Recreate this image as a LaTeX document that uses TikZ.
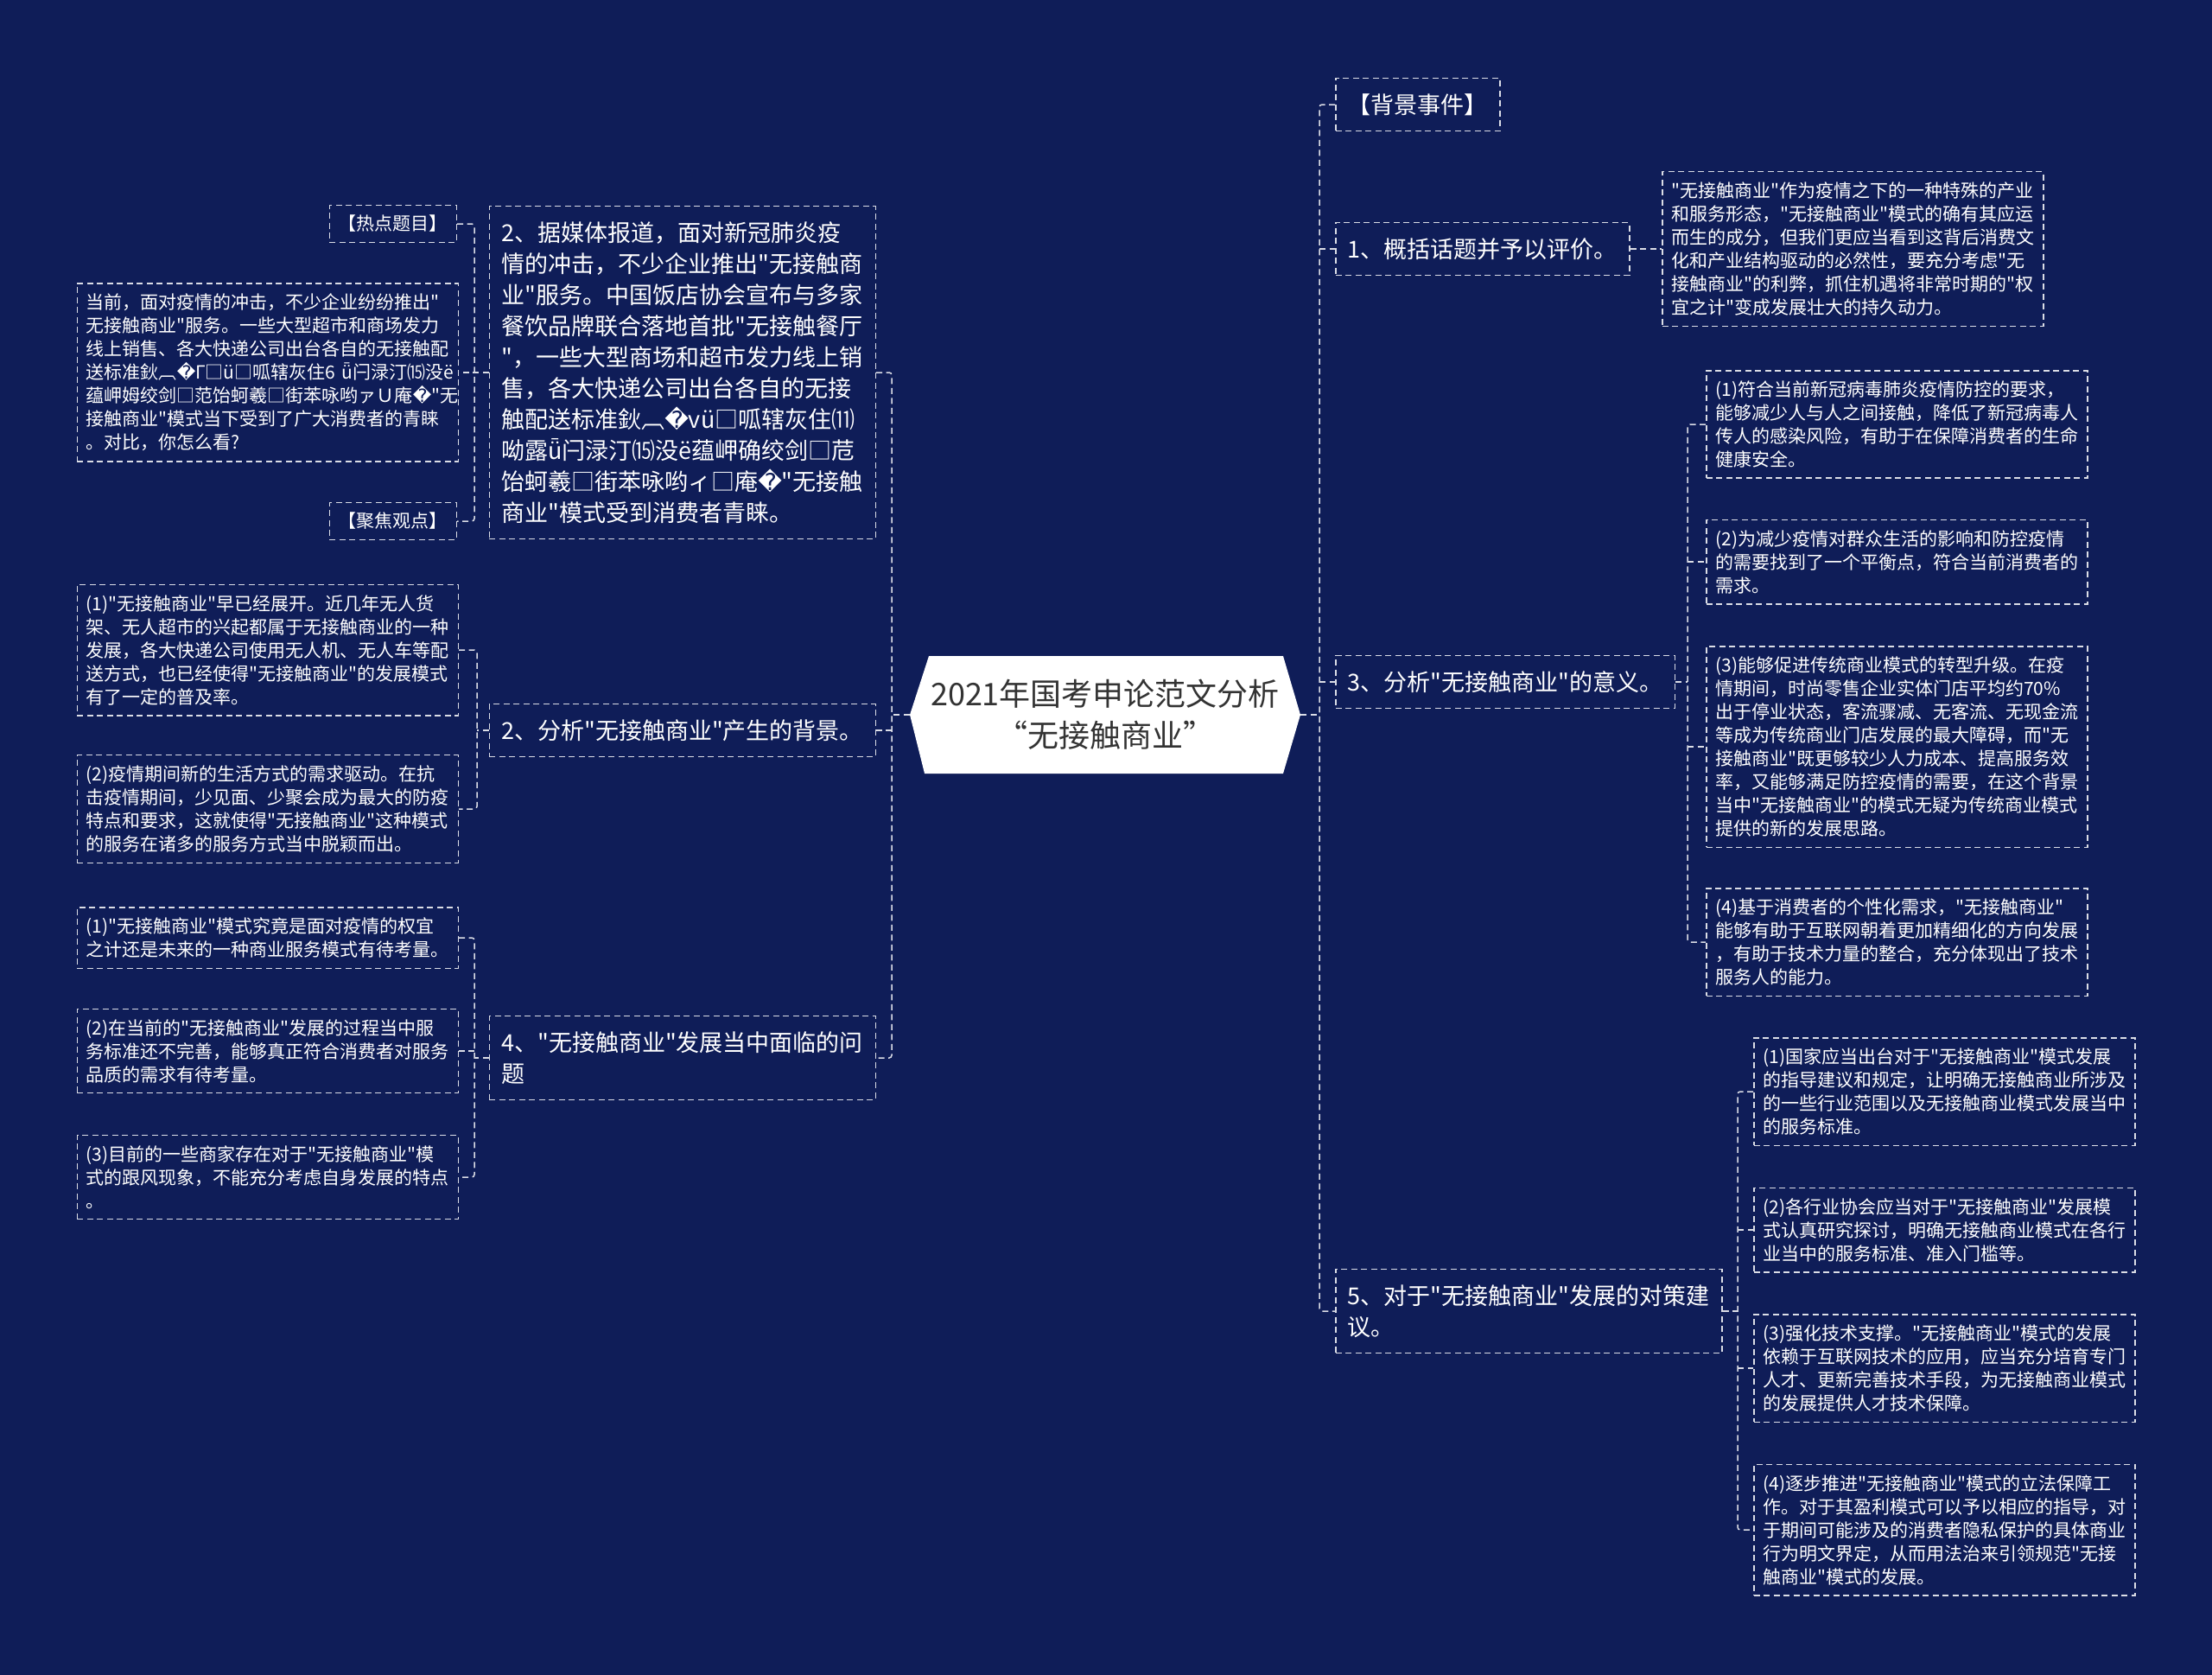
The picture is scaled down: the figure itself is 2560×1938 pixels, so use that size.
\documentclass[tikz,border=0pt]{standalone}
\usepackage{fontspec}
\setmainfont{Noto Sans CJK SC}[Ligatures=TeXOff]
\newfontfamily\dvsans{DejaVu Sans}
\newcommand{\bad}{{\dvsans\char"FFFD}}
\usetikzlibrary{positioning}
\definecolor{bgblue}{HTML}{0F1D58}
\definecolor{titlegray}{HTML}{333333}

\begin{document}
\begin{tikzpicture}[x=1pt, y=-1pt,
  every node/.style={text=white, align=left},
  topic/.style={draw=white!85!bgblue, line width=1.5pt, dash pattern=on 7pt off 4.5pt,
    inner xsep=14pt, inner ysep=18pt, font=\fontsize{27}{36}\selectfont},
  leaf/.style={draw=white!85!bgblue, line width=1.5pt, dash pattern=on 7pt off 4.5pt,
    inner xsep=10.5pt, inner ysep=12pt, text width=420pt, font=\fontsize{21}{27}\selectfont},
  tag/.style={leaf, text width=, inner ysep=11.5pt},
  root/.style={text=titlegray, align=center, minimum width=452pt, inner sep=0pt,
    font=\fontsize{36}{48}\selectfont},
  link/.style={draw=white!85!bgblue, line width=1.5pt, dash pattern=on 7pt off 4.5pt,
    rounded corners=3pt}]
  \fill[bgblue] (0,0) rectangle (2560,1938);

  % centre
  \fill[white] (1053,827) -- (1075,759) -- (1485,759) -- (1505,827) -- (1485,895) -- (1070,895) -- cycle;
  \node[root] (root) at (1279,827) {2021年国考申论范文分析\\“无接触商业”};

  % right branches
  \node[topic, anchor=west] (bg) at (1545,121) {【背景事件】};
  \node[topic, anchor=west] (r1) at (1545,288) {1、概括话题并予以评价。};
  \node[topic, anchor=west] (r3) at (1545,789) {3、分析"无接触商业"的意义。};
  \node[topic, anchor=west, text width=419pt] (r5) at (1545,1517) {5、对于"无接触商业"发展的对策建\\议。};

  \node[leaf, anchor=west] (c1) at (1923,288) {"无接触商业"作为疫情之下的一种特殊的产业\\和服务形态，"无接触商业"模式的确有其应运\\而生的成分，但我们更应当看到这背后消费文\\化和产业结构驱动的必然性，要充分考虑"无\\接触商业"的利弊，抓住机遇将非常时期的"权\\宜之计"变成发展壮大的持久动力。};

  \node[leaf, anchor=west] (m1) at (1974,491) {(1)符合当前新冠病毒肺炎疫情防控的要求，\\能够减少人与人之间接触，降低了新冠病毒人\\传人的感染风险，有助于在保障消费者的生命\\健康安全。};
  \node[leaf, anchor=west] (m2) at (1974,650) {(2)为减少疫情对群众生活的影响和防控疫情\\的需要找到了一个平衡点，符合当前消费者的\\需求。};
  \node[leaf, anchor=west] (m3) at (1974,864) {(3)能够促进传统商业模式的转型升级。在疫\\情期间，时尚零售企业实体门店平均约70\%\\出于停业状态，客流骤减、无客流、无现金流\\等成为传统商业门店发展的最大障碍，而"无\\接触商业"既更够较少人力成本、提高服务效\\率，又能够满足防控疫情的需要，在这个背景\\当中"无接触商业"的模式无疑为传统商业模式\\提供的新的发展思路。};
  \node[leaf, anchor=west] (m4) at (1974,1090) {(4)基于消费者的个性化需求，"无接触商业"\\能够有助于互联网朝着更加精细化的方向发展\\，有助于技术力量的整合，充分体现出了技术\\服务人的能力。};

  \node[leaf, anchor=west] (s1) at (2029,1263) {(1)国家应当出台对于"无接触商业"模式发展\\的指导建议和规定，让明确无接触商业所涉及\\的一些行业范围以及无接触商业模式发展当中\\的服务标准。};
  \node[leaf, anchor=west] (s2) at (2029,1423) {(2)各行业协会应当对于"无接触商业"发展模\\式认真研究探讨，明确无接触商业模式在各行\\业当中的服务标准、准入门槛等。};
  \node[leaf, anchor=west] (s3) at (2029,1583) {(3)强化技术支撑。"无接触商业"模式的发展\\依赖于互联网技术的应用，应当充分培育专门\\人才、更新完善技术手段，为无接触商业模式\\的发展提供人才技术保障。};
  \node[leaf, anchor=west] (s4) at (2029,1770) {(4)逐步推进"无接触商业"模式的立法保障工\\作。对于其盈利模式可以予以相应的指导，对\\于期间可能涉及的消费者隐私保护的具体商业\\行为明文界定，从而用法治来引领规范"无接\\触商业"模式的发展。};

  % left branches
  \node[topic, anchor=east, text width=419pt] (l2a) at (1014,431) {2、据媒体报道，面对新冠肺炎疫\\情的冲击，不少企业推出"无接触商\\业"服务。中国饭店协会宣布与多家\\餐饮品牌联合落地首批"无接触餐厅\\"，一些大型商场和超市发力线上销\\售，各大快递公司出台各自的无接\\触配送标准鈥︹\bad vü□呱辖灰住⑾\\呦露ǖ闩渌汀⒂没ё蕴岬确绞剑□苊\\饴蚵羲□街苯咏哟ィ□庵\bad"无接触\\商业"模式受到消费者青睐。};
  \node[topic, anchor=east, text width=419pt] (l2b) at (1014,845) {2、分析"无接触商业"产生的背景。};
  \node[topic, anchor=east, text width=419pt] (l4) at (1014,1224) {4、"无接触商业"发展当中面临的问\\题};

  \node[tag, anchor=east] (hot) at (529,259) {【热点题目】};
  \node[leaf, anchor=east] (hotbody) at (531,431) {当前，面对疫情的冲击，不少企业纷纷推出"\\无接触商业"服务。一些大型超市和商场发力\\线上销售、各大快递公司出台各自的无接触配\\送标准鈥︹\bad Γ□ü□呱辖灰住6~ǖ闩渌汀⒂没ё\\蕴岬姆绞剑□范饴蚵羲□街苯咏哟ァＵ庵\bad"无\\接触商业"模式当下受到了广大消费者的青睐\\。对比，你怎么看?};
  \node[tag, anchor=east] (focus) at (529,603) {【聚焦观点】};

  \node[leaf, anchor=east] (b1) at (531,752) {(1)"无接触商业"早已经展开。近几年无人货\\架、无人超市的兴起都属于无接触商业的一种\\发展，各大快递公司使用无人机、无人车等配\\送方式，也已经使得"无接触商业"的发展模式\\有了一定的普及率。};
  \node[leaf, anchor=east] (b2) at (531,936) {(2)疫情期间新的生活方式的需求驱动。在抗\\击疫情期间，少见面、少聚会成为最大的防疫\\特点和要求，这就使得"无接触商业"这种模式\\的服务在诸多的服务方式当中脱颖而出。};

  \node[leaf, anchor=east] (p1) at (531,1085) {(1)"无接触商业"模式究竟是面对疫情的权宜\\之计还是未来的一种商业服务模式有待考量。};
  \node[leaf, anchor=east] (p2) at (531,1216) {(2)在当前的"无接触商业"发展的过程当中服\\务标准还不完善，能够真正符合消费者对服务\\品质的需求有待考量。};
  \node[leaf, anchor=east] (p3) at (531,1362) {(3)目前的一些商家存在对于"无接触商业"模\\式的跟风现象，不能充分考虑自身发展的特点\\。};

  % connectors
  \coordinate (tR) at (1527,827);
  \draw[link] (root.east) -- (tR);
  \draw[link] (bg.west) -| (tR) |- (r5.west);
  \draw[link] (tR |- r1.west) -- (r1.west);
  \draw[link] (tR |- r3.west) -- (r3.west);

  \coordinate (tL) at (1032,827);
  \draw[link] (root.west) -- (tL);
  \draw[link] (l2a.east) -| (tL) |- (l4.east);
  \draw[link] (tL |- l2b.east) -- (l2b.east);

  \draw[link] (r1.east) -- (c1.west);

  \coordinate (t3) at (1953,789);
  \draw[link] (r3.east) -- (t3);
  \draw[link] (m1.west) -| (t3) |- (m4.west);
  \draw[link] (t3 |- m2.west) -- (m2.west);
  \draw[link] (t3 |- m3.west) -- (m3.west);

  \coordinate (t5) at (2011,1517);
  \draw[link] (r5.east) -- (t5);
  \draw[link] (s1.west) -| (t5) |- (s4.west);
  \draw[link] (t5 |- s2.west) -- (s2.west);
  \draw[link] (t5 |- s3.west) -- (s3.west);

  \coordinate (ta) at (549,431);
  \draw[link] (l2a.west) -- (ta) -- (hotbody.east);
  \draw[link] (hot.east) -| (ta) |- (focus.east);

  \coordinate (tb) at (552,845);
  \draw[link] (l2b.west) -- (tb);
  \draw[link] (b1.east) -| (tb) |- (b2.east);

  \coordinate (tc) at (549,1224);
  \draw[link] (l4.west) -- (tc);
  \draw[link] (p1.east) -| (tc) |- (p3.east);
  \draw[link] (tc |- p2.east) -- (p2.east);
\end{tikzpicture}
\end{document}
